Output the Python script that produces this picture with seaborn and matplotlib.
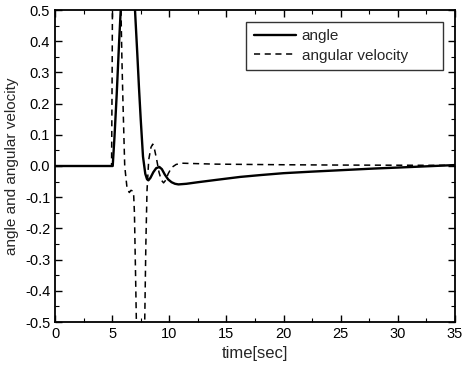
import numpy as np
import pandas as pd
import matplotlib
matplotlib.use("Agg")
import matplotlib.pyplot as plt
from matplotlib.ticker import MultipleLocator, FormatStrFormatter
from matplotlib.lines import Line2D
import seaborn as sns

# angle (solid)
angle_t = [0, 5.05, 5.2, 5.4, 5.6, 5.75, 5.95, 6.2, 6.45, 6.7, 6.85, 7.0, 7.2, 7.35,
           7.5, 7.7, 7.9, 8.05, 8.17, 8.35, 8.6, 8.85, 9.13, 9.35, 9.6, 9.9, 10.2,
           10.5, 10.8, 11.5, 12.5, 14, 16.2, 18, 20, 22.5, 25.8, 28, 30, 32.5, 35]
angle_v = [0, 0, 0.09, 0.23, 0.39, 0.5, 0.62, 0.7, 0.7, 0.63, 0.57, 0.5, 0.36, 0.25,
           0.15, 0.03, -0.025, -0.042, -0.046, -0.038, -0.02, -0.007, -0.003, -0.01,
           -0.027, -0.043, -0.052, -0.057, -0.059, -0.057, -0.052, -0.045, -0.035,
           -0.029, -0.023, -0.018, -0.012, -0.008, -0.005, -0.001, 0.003]

# angular velocity (dashed)
vel_t = [0, 4.95, 5.0, 5.05, 5.2, 5.45, 5.65, 5.75, 5.85, 5.95, 6.1, 6.3, 6.5, 6.65,
         6.8, 6.88, 6.95, 7.05, 7.12, 7.25, 7.45, 7.7, 7.85, 7.95, 8.05, 8.2, 8.4,
         8.55, 8.7, 8.9, 9.1, 9.3, 9.5, 9.7, 9.9, 10.2, 10.6, 11.1, 12, 14, 17, 20,
         25, 30, 35]
vel_v = [0, 0, 0.3, 0.7, 1.0, 0.95, 0.72, 0.55, 0.35, 0.2, 0.0, -0.07, -0.085, -0.078,
         -0.08, -0.09, -0.15, -0.35, -0.5, -0.7, -0.8, -0.65, -0.5, -0.25, -0.08, 0.02,
         0.06, 0.07, 0.055, 0.02, -0.02, -0.045, -0.054, -0.045, -0.025, -0.005, 0.005,
         0.009, 0.008, 0.006, 0.005, 0.004, 0.003, 0.0025, 0.002]

series_names = ["angle", "angular velocity"]
x_label = "time[sec]"
y_label = "angle and angular velocity"

df = pd.concat([
    pd.DataFrame({"t": angle_t, "v": angle_v, "series": series_names[0]}),
    pd.DataFrame({"t": vel_t, "v": vel_v, "series": series_names[1]}),
])

sns.set_style("ticks")
plt.rcParams["font.family"] = ["Liberation Sans", "DejaVu Sans"]
plt.rcParams["font.size"] = 10

fig = plt.figure(figsize=(4.67, 3.72), dpi=100)
ax = fig.add_axes([55/467, 50/372, 400/467, 312/372])

sns.lineplot(data=df, x="t", y="v", hue="series", style="series",
             palette=["black", "black"], dashes=[(1, 0), (4, 3)],
             sort=False, estimator=None, ax=ax, legend=False)
lines = ax.get_lines()
lines[0].set_linewidth(1.7)
lines[1].set_linewidth(1.1)

ax.set_xlim(0, 35)
ax.set_ylim(-0.5, 0.5)
ax.xaxis.set_major_locator(MultipleLocator(5))
ax.xaxis.set_minor_locator(MultipleLocator(2.5))
ax.yaxis.set_major_locator(MultipleLocator(0.1))
ax.yaxis.set_minor_locator(MultipleLocator(0.05))
ax.yaxis.set_major_formatter(FormatStrFormatter("%.1f"))
ax.tick_params(which="both", direction="in", top=True, right=True, colors="black",
               labelsize=10.5)
ax.tick_params(which="major", length=5, width=1)
ax.tick_params(which="minor", length=3, width=0.8)
for s in ax.spines.values():
    s.set_linewidth(1.3)
    s.set_color("black")

ax.set_xlabel(x_label, fontsize=12)
ax.set_ylabel(y_label, fontsize=11)

handles = [Line2D([], [], color="black", lw=1.7),
           Line2D([], [], color="black", lw=1.1, dashes=(4, 3))]
leg = ax.legend(handles, series_names, loc="upper left",
                bbox_to_anchor=(191/400, 300/312, 197/400, 0.001), mode="expand",
                frameon=True, fancybox=False, edgecolor="black", handlelength=2.8,
                handletextpad=0.35, borderpad=0.5, borderaxespad=0,
                labelspacing=0.35, fontsize=11)
leg.get_frame().set_linewidth(1.0)

fig.savefig("out.png", dpi=100, facecolor="white")
